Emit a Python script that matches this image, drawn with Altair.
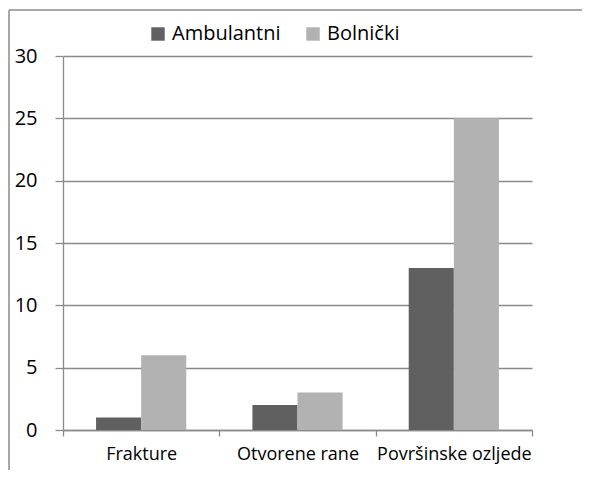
import altair as alt
import pandas as pd

categories = ["Frakture", "Otvorene rane", "Površinske ozljede"]
series = ["Ambulantni", "Bolnički"]
ambulantni = [1, 2, 13]
bolnicki = [6, 3, 25]
y_ticks = [0, 5, 10, 15, 20, 25, 30]

rows = []
for c, a, b in zip(categories, ambulantni, bolnicki):
    rows.append({"kat": c, "serija": series[0], "v": a})
    rows.append({"kat": c, "serija": series[1], "v": b})
df = pd.DataFrame(rows)

FONT = "Open Sans"
DARK = "#606060"
LIGHT = "#b2b2b2"
GRID = "#8a8a8a"
W, H = 469, 374

bars = alt.Chart(df).mark_bar().encode(
    x=alt.X("kat:N", sort=categories, title=None,
            scale=alt.Scale(paddingInner=0, paddingOuter=0),
            axis=alt.Axis(tickBand="extent", labelAngle=0, labelFontSize=18,
                          labelFont=FONT, labelColor="black", labelPadding=9,
                          tickSize=6, tickColor=GRID, domainColor=GRID,
                          tickWidth=1.3, domainWidth=1.3, grid=False)),
    xOffset=alt.XOffset("serija:N", sort=series,
                        scale=alt.Scale(paddingInner=0, paddingOuter=0.733)),
    y=alt.Y("v:Q", title=None, scale=alt.Scale(domain=[0, 30], nice=False),
            axis=alt.Axis(values=y_ticks, labelFontSize=20, labelFont=FONT,
                          labelColor="black", labelPadding=18, tickSize=8,
                          tickColor=GRID, domainColor=GRID, gridColor=GRID,
                          tickWidth=1.3, domainWidth=1.3, gridWidth=1.3)),
    color=alt.Color("serija:N", sort=series,
                    scale=alt.Scale(domain=series, range=[DARK, LIGHT]),
                    legend=alt.Legend(orient="none", legendX=85, legendY=-32,
                                      direction="horizontal", title=None,
                                      symbolType="square", symbolSize=180,
                                      symbolStrokeWidth=0, labelFontSize=20,
                                      labelFont=FONT, labelColor="black",
                                      labelOffset=4, columnPadding=22)),
)

frame_left = alt.Chart(alt.Data(values=[{}])).mark_rule(color=GRID, strokeWidth=1.5).encode(
    x=alt.value(-54), y=alt.value(-46), y2=alt.value(H + 60))
frame_top = alt.Chart(alt.Data(values=[{}])).mark_rule(color=GRID, strokeWidth=1.5).encode(
    x=alt.value(-54), x2=alt.value(W + 60), y=alt.value(-46))

chart = alt.layer(bars, frame_left, frame_top).properties(
    width=W, height=H,
    padding={"left": 55, "top": 48, "right": 50, "bottom": 40},
    autosize=alt.AutoSizeParams(type="none"),
).configure_view(stroke=None)

chart.save("out.html", embed_options={"renderer": "svg", "actions": False})
